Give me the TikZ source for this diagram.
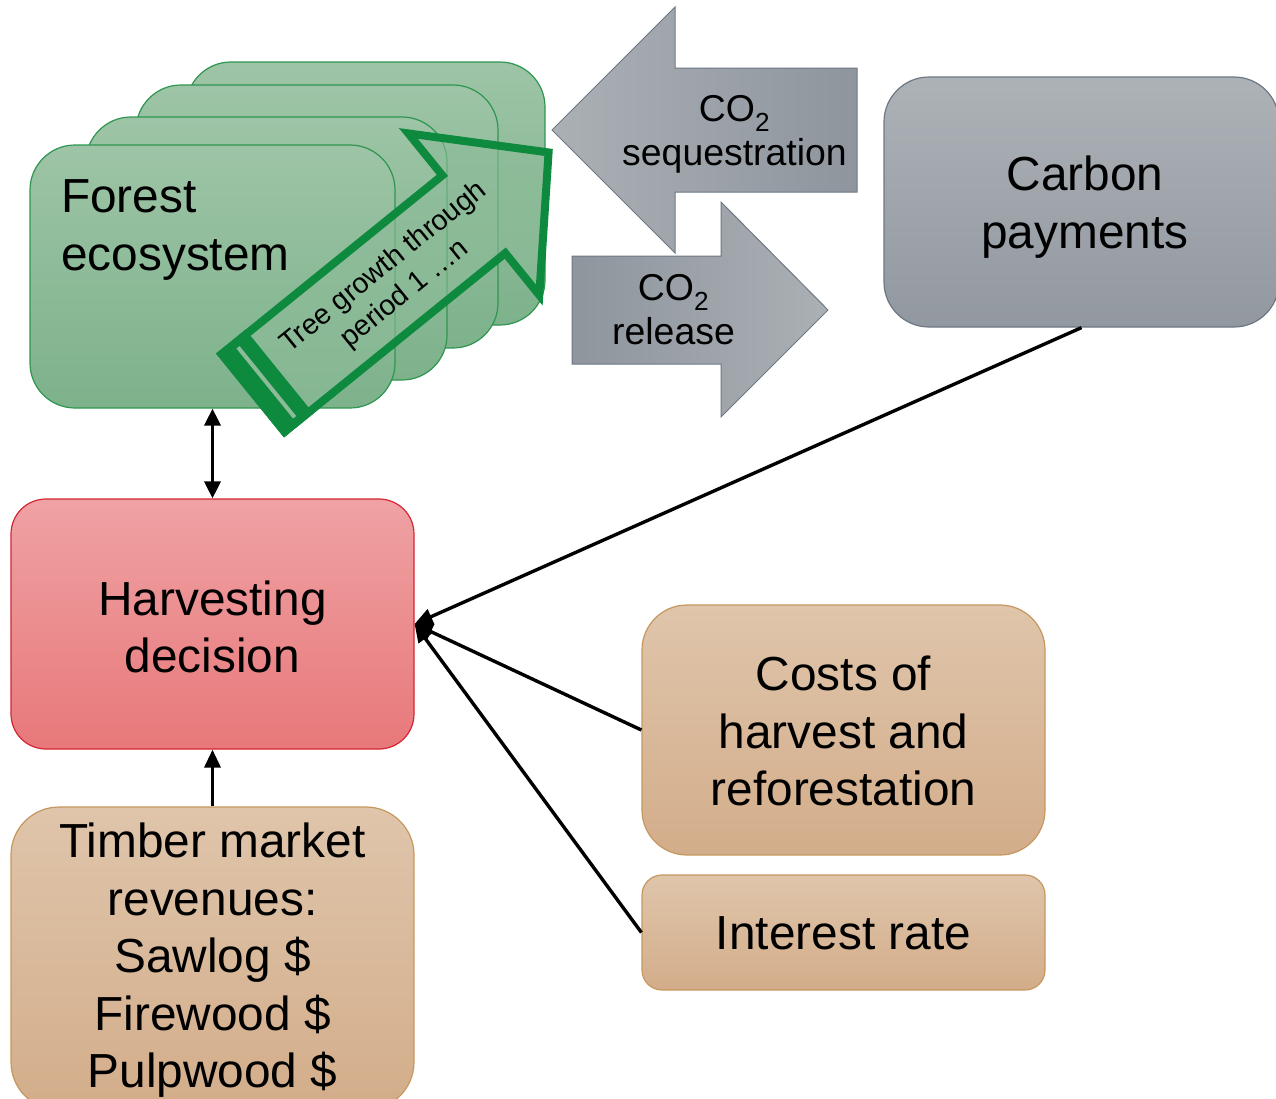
\documentclass[tikz,border=0pt]{standalone}
\usepackage{fontspec}
\setmainfont{Liberation Sans}
\usetikzlibrary{arrows.meta}
\definecolor{grtop}{HTML}{9DC4A6}
\definecolor{grbot}{HTML}{7DB28B}
\definecolor{grline}{HTML}{2E9650}
\definecolor{grdark}{HTML}{0E8A3F}
\definecolor{grmid}{HTML}{8CBB98}
\definecolor{rdtop}{HTML}{EFA2A4}
\definecolor{rdbot}{HTML}{E8787A}
\definecolor{rdline}{HTML}{D42535}
\definecolor{tntop}{HTML}{DFC5AB}
\definecolor{tnbot}{HTML}{D3AD8A}
\definecolor{tnline}{HTML}{C6975E}
\definecolor{gytop}{HTML}{ADB2B7}
\definecolor{gybot}{HTML}{9298A0}
\definecolor{gyline}{HTML}{6C7884}
\definecolor{gylight}{HTML}{ABB0B5}
\definecolor{gydark}{HTML}{8E959D}
\begin{document}
\begin{tikzpicture}[x=1pt,y=-1pt,
  box/.style={inner sep=0pt, line width=1.2pt},
  forestbox/.style={box, draw=grline, top color=grtop, bottom color=grbot, rounded corners=45pt, minimum height=263pt},
  redbox/.style={box, draw=rdline, top color=rdtop, bottom color=rdbot, rounded corners=35pt},
  tanbox/.style={box, draw=tnline, top color=tntop, bottom color=tnbot},
  graybox/.style={box, draw=gyline, top color=gytop, bottom color=gybot, rounded corners=45pt},
  co2arrow/.style={draw=gyline, line width=1pt},
  bigtext/.style={font=\fontsize{47.8}{57.5}\selectfont, align=center, inner sep=0pt},
  midtext/.style={font=\fontsize{37.4}{44}\selectfont, align=center, inner sep=0pt},
  smalltext/.style={font=\fontsize{28.5}{34}\selectfont, align=center, inner sep=0pt},
  conn/.style={line width=3.4pt, -{Triangle[length=18pt,width=16pt]}},
  conn2/.style={line width=3.4pt, {Triangle[length=17pt,width=16pt]}-{Triangle[length=17pt,width=16pt]}},
]
\useasboundingbox (0,0) rectangle (1276,1098);

% forest stack
\node[forestbox, minimum width=359pt] (f4) at (365.5,193.5) {};
\node[forestbox, minimum width=362pt] (f3) at (317,216.5) {};
\node[forestbox, minimum width=361pt] (f2) at (266.5,248.5) {};
\node[forestbox, minimum width=365pt] (forest) at (212.5,276.5) {};
\node[bigtext, align=left, anchor=west] (forestlabel) at (61,230) {Forest\\ecosystem};

% tree growth arrow
\begin{scope}[shift={(250,395.5)}, rotate=39]
  \path[draw=grdark, line width=8pt, fill=grmid, fill opacity=0.6, line join=miter]
    (4,-50) -- (288,-50) -- (288,-104) -- (385,-1) -- (288,104) -- (288,50) -- (4,50) -- cycle;
  \fill[grdark] (0,-54) rectangle (38,54);
  \draw[grmid, line width=4pt] (21,-45) -- (21,45);
\end{scope}
\node[smalltext, rotate=39] (treelabel) at (394.5,281) {Tree growth through\\period 1 …n};

% CO2 arrows
\path[co2arrow, left color=gylight, right color=gydark]
  (552,130) -- (675,7) -- (675,68) -- (857,68) -- (857,192) -- (675,192) -- (675,253) -- cycle;
\node[midtext] (seqlabel) at (734.5,134.6) {CO\textsubscript{2}\\sequestration};
\path[co2arrow, left color=gydark, right color=gylight]
  (572,256) -- (721,256) -- (721,202) -- (828,310) -- (721,417) -- (721,364) -- (572,364) -- cycle;
\node[midtext] (rellabel) at (673.5,310) {CO\textsubscript{2}\\release};

% carbon payments
\node[graybox, minimum width=395pt, minimum height=250pt] (carbon) at (1081.5,202) {};
\node[bigtext] (carbonlabel) at (1085,207) {Carbon\\payments};

% harvesting decision
\node[redbox, minimum width=403pt, minimum height=250pt] (harvest) at (212.5,624) {};
\node[bigtext] (harvestlabel) at (212.5,627) {Harvesting\\decision};

% costs
\node[tanbox, rounded corners=45pt, minimum width=403pt, minimum height=250pt] (costs) at (843.5,730) {};
\node[bigtext] (costslabel) at (843.5,731) {Costs of\\harvest and\\reforestation};

% interest
\node[tanbox, rounded corners=20pt, minimum width=403pt, minimum height=115pt] (interest) at (843.5,932.5) {};
\node[bigtext] (interestlabel) at (843.5,933.5) {Interest rate};

% timber
\node[tanbox, rounded corners=48pt, minimum width=403pt, minimum height=303pt] (timber) at (212.5,958.5) {};
\node[bigtext] (timberlabel) at (212.5,960.5) {Timber market\\revenues:\\Sawlog \$\\Firewood \$\\Pulpwood \$};

% connectors
\draw[conn2] (forest.south) -- (harvest.north);
\draw[conn] (timber.north) -- (harvest.south);
\draw[conn] (carbon.south) -- (harvest.east);
\draw[conn] (costs.west) -- (harvest.east);
\draw[conn] (interest.west) -- (harvest.east);
\end{tikzpicture}
\end{document}
